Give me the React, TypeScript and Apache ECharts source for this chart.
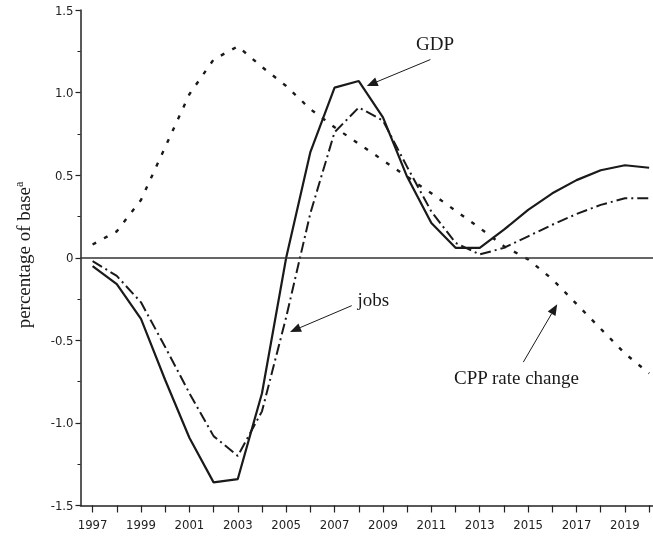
import React, { useEffect, useRef } from "react";
import * as echarts from "echarts";

const years = [1997, 1998, 1999, 2000, 2001, 2002, 2003, 2004, 2005, 2006, 2007, 2008, 2009, 2010, 2011, 2012, 2013, 2014, 2015, 2016, 2017, 2018, 2019, 2020];
const gdp = [-0.05, -0.16, -0.37, -0.74, -1.09, -1.36, -1.34, -0.82, 0.0, 0.64, 1.03, 1.07, 0.85, 0.49, 0.21, 0.06, 0.06, 0.17, 0.29, 0.39, 0.47, 0.53, 0.56, 0.545];
const jobs = [-0.02, -0.11, -0.27, -0.54, -0.82, -1.08, -1.2, -0.93, -0.36, 0.27, 0.76, 0.91, 0.83, 0.55, 0.28, 0.09, 0.02, 0.06, 0.13, 0.2, 0.265, 0.32, 0.36, 0.36];
const cpp = [0.08, 0.16, 0.35, 0.67, 0.99, 1.2, 1.28, 1.155, 1.04, 0.9, 0.79, 0.69, 0.59, 0.49, 0.39, 0.285, 0.18, 0.07, -0.01, -0.13, -0.28, -0.43, -0.58, -0.7];
const xLabelYears = [1997, 1999, 2001, 2003, 2005, 2007, 2009, 2011, 2013, 2015, 2017, 2019];

// annotations in data coordinates: text position, arrow start, arrow tip
const gdpNote = { text: [2011.15, 1.3], from: [2010.96, 1.2], to: [2008.33, 1.04] };
const jobsNote = { text: [2007.95, -0.255], from: [2007.71, -0.29], to: [2005.16, -0.449] };
const cppNote = { text: [2014.52, -0.727], from: [2014.8, -0.632], to: [2016.2, -0.281] };

const ink = "#1a1a1a";
const sansFont = "DejaVu Sans Condensed";
const serifFont = "Liberation Serif";

const pairs = (vals: number[]) => years.map((y, i) => [y, vals[i]]);

export default function App() {
  const ref = useRef<HTMLDivElement>(null);
  useEffect(() => {
    if (!ref.current) return;
    const chart = echarts.init(ref.current, null, { renderer: "svg" });
    chart.setOption({
      animation: false,
      grid: { left: 80.5, right: 0, top: 10, bottom: 32.5, containLabel: false },
      xAxis: {
        type: "value",
        min: 1996.5,
        max: 2020.16,
        splitLine: { show: false },
        axisLine: { show: true, onZero: false, lineStyle: { color: "#222", width: 1.5 } },
        axisTick: { show: true, customValues: years, length: 7, lineStyle: { color: "#222", width: 1.2 } },
        axisLabel: {
          customValues: xLabelYears,
          formatter: (v: number) => String(v),
          fontFamily: sansFont,
          fontSize: 13,
          color: "#222",
          margin: 12,
        },
      },
      yAxis: {
        type: "value",
        min: -1.5,
        max: 1.5,
        interval: 0.5,
        splitLine: { show: false },
        axisLine: { show: true, onZero: false, lineStyle: { color: "#222", width: 1.5 } },
        axisTick: { show: true, length: 5, lineStyle: { color: "#222", width: 1.2 } },
        minorTick: { show: true, splitNumber: 2, length: 3, lineStyle: { color: "#222", width: 1 } },
        axisLabel: {
          formatter: (v: number) => (Math.abs(v) < 1e-9 ? "0" : v.toFixed(1)),
          fontFamily: sansFont,
          fontSize: 13,
          color: "#222",
          margin: 7,
        },
      },
      series: [
        {
          name: "GDP",
          type: "line",
          data: pairs(gdp),
          showSymbol: false,
          lineStyle: { color: ink, width: 2.2, type: "solid" },
          markLine: {
            silent: true,
            symbol: ["none", "none"],
            label: { show: false },
            lineStyle: { color: "#333", width: 1.6, type: "solid" },
            data: [{ yAxis: 0 }],
          },
          z: 3,
        },
        {
          name: "jobs",
          type: "line",
          data: pairs(jobs),
          showSymbol: false,
          lineStyle: { color: ink, width: 2, type: [11, 4, 2, 4] },
          z: 3,
        },
        {
          name: "CPP rate change",
          type: "line",
          data: pairs(cpp),
          showSymbol: false,
          lineStyle: { color: ink, width: 2.4, type: [4, 9] },
          z: 3,
        },
      ],
    });

    const px = (p: number[]) => chart.convertToPixel({ gridIndex: 0 }, p) as number[];
    const arrow = (from: number[], to: number[]) => {
      const a = px(from);
      const b = px(to);
      const dx = b[0] - a[0];
      const dy = b[1] - a[1];
      const len = Math.sqrt(dx * dx + dy * dy);
      const ux = dx / len;
      const uy = dy / len;
      const hl = 11;
      const hw = 4.5;
      const bx = b[0] - ux * hl;
      const by = b[1] - uy * hl;
      return [
        {
          type: "line",
          shape: { x1: a[0], y1: a[1], x2: bx, y2: by },
          style: { stroke: ink, lineWidth: 1 },
          silent: true,
        },
        {
          type: "polygon",
          shape: {
            points: [
              [b[0], b[1]],
              [bx - uy * hw, by + ux * hw],
              [bx + uy * hw, by - ux * hw],
            ],
          },
          style: { fill: ink },
          silent: true,
        },
      ];
    };
    const label = (pos: number[], text: string, align: string) => {
      const p = px(pos);
      return {
        type: "text",
        x: p[0],
        y: p[1],
        style: {
          text,
          fill: ink,
          font: `19px "${serifFont}"`,
          align,
          verticalAlign: "middle",
        },
        silent: true,
      };
    };

    chart.setOption({
      graphic: [
        {
          type: "text",
          x: 23,
          y: 255,
          rotation: Math.PI / 2,
          style: {
            text: "percentage of base{sup|a}",
            fill: ink,
            fontFamily: serifFont,
            fontSize: 19,
            align: "center",
            verticalAlign: "middle",
            rich: {
              sup: { fontFamily: serifFont, fontSize: 12, verticalAlign: "top", padding: [0, 0, 9, 0], fill: ink },
            },
          },
          silent: true,
        },
        label(gdpNote.text, "GDP", "center"),
        ...arrow(gdpNote.from, gdpNote.to),
        label(jobsNote.text, "jobs", "left"),
        ...arrow(jobsNote.from, jobsNote.to),
        label(cppNote.text, "CPP rate change", "center"),
        ...arrow(cppNote.from, cppNote.to),
      ],
    });

    return () => chart.dispose();
  }, []);
  return <div ref={ref} style={{ position: "fixed", left: 0, top: 0, width: 653, height: 538 }} />;
}
